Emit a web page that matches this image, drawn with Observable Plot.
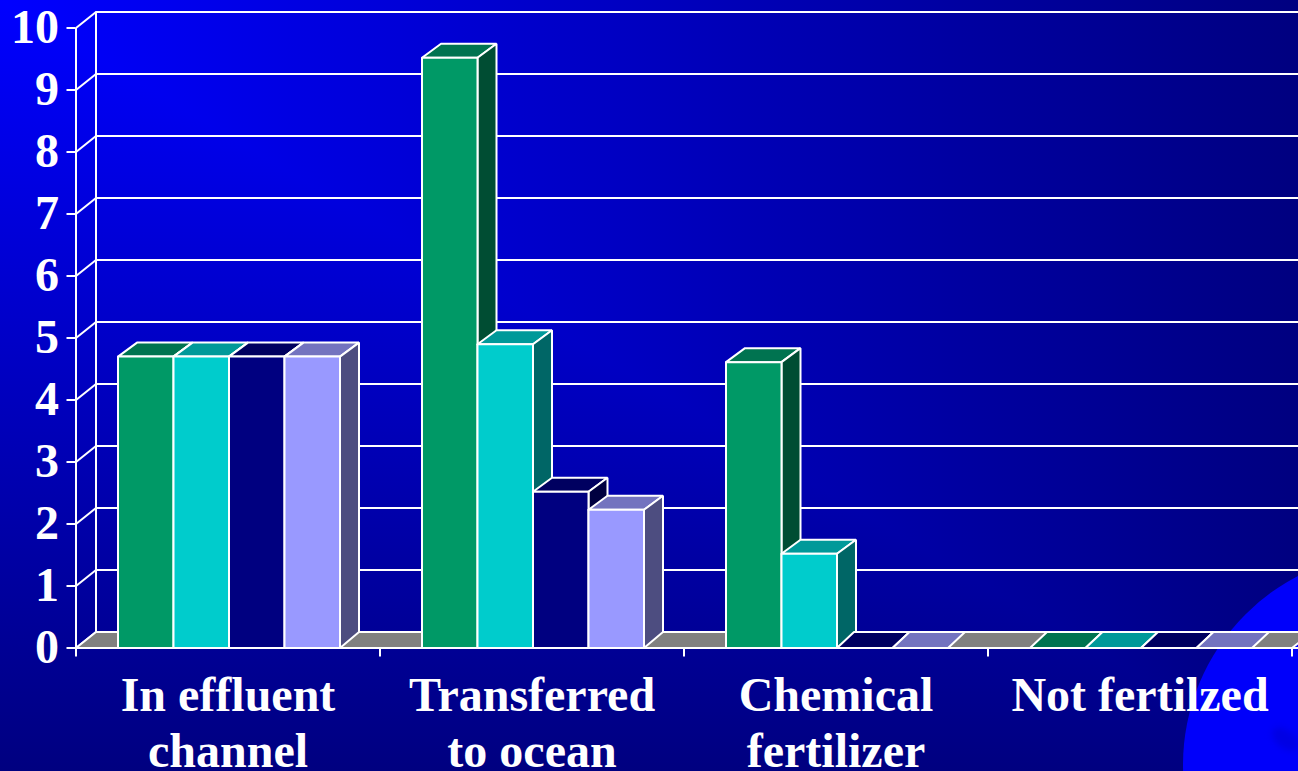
<!DOCTYPE html>
<html>
<head>
<meta charset="utf-8">
<script src="https://cdn.jsdelivr.net/npm/d3@7"></script>
<script src="https://cdn.jsdelivr.net/npm/@observablehq/plot@0.6"></script>
<style>
  html, body { margin: 0; padding: 0; overflow: hidden; }
  #slide {
    position: relative; width: 1298px; height: 771px; overflow: hidden;
    background-image: linear-gradient(to right, #0000ff, #000080), linear-gradient(to bottom, #0000ff, #000080);
    background-blend-mode: darken;
  }
  #globe {
    position: absolute; left: 1183px; top: 552px; width: 426px; height: 426px;
    border-radius: 50%; background: #0000fa;
  }
  #land {
    position: absolute; left: 1270px; top: 730px; width: 30px; height: 18px;
    border-radius: 50%; background: #0000e4; transform: rotate(40deg); filter: blur(3px);
  }
  #chart { position: absolute; left: 0; top: 0; }
  #chart text { font-variant-ligatures: none; }
</style>
</head>
<body>
<div id="slide"><div id="globe"></div><div id="land"></div><div id="chart"></div></div>
<script>
// Category labels, split over two lines where the slide wraps them
const categories = ["In effluent\nchannel", "Transferred\nto ocean", "Chemical\nfertilizer", "Not fertilzed"];
const yTicks = [0, 1, 2, 3, 4, 5, 6, 7, 8, 9, 10];

// One value per category, per series
const series1 = [4.7, 9.52, 4.61, 0];
const series2 = [4.7, 4.9, 1.52, 0];
const series3 = [4.7, 2.52, 0, 0];
const series4 = [4.7, 2.23, 0, 0];
const seriesValues = [series1, series2, series3, series4];

// Front, top and side shades of each series
const frontColors = ["#009966", "#00cccc", "#000080", "#9999ff"];
const topColors = ["#007350", "#009999", "#000060", "#7373bf"];
const sideColors = ["#004d33", "#006666", "#000040", "#4d4d80"];

// Oblique projection in data units: one category is 304px wide, one y unit 62px
const pxX = 1 / 304, pxY = 1 / 62;
const wallDx = 20 * pxX, wallDy = 16 * pxY;
const barInset = 42 * pxX, barWidth = 55.5 * pxX;

const polygons = [];
const polygon = (points, fill) => {
  const id = polygons.length ? polygons[polygons.length - 1].id + 1 : 0;
  for (const [x, y] of [...points, points[0]]) polygons.push({id, x, y, fill});
};

// Floor of the chart box
polygon([[0, 0], [4, 0], [4 + wallDx, wallDy], [wallDx, wallDy]], "#808080");

// Each bar is three faces, painted left to right so later bars overlap earlier sides
categories.forEach((_, c) => {
  seriesValues.forEach((values, s) => {
    const v = values[c];
    const x1 = c + barInset + s * barWidth, x2 = x1 + barWidth;
    const dx = (v > 0 ? 19 : 17) * pxX;
    const dyTop = (v > 0 ? 14 : 16) * pxY;
    polygon([[x1, v], [x2, v], [x2 + dx, v + dyTop], [x1 + dx, v + dyTop]], topColors[s]);
    if (v > 0) {
      polygon([[x2, 0], [x2 + dx, wallDy], [x2 + dx, v + dyTop], [x2, v]], sideColors[s]);
      polygon([[x1, 0], [x2, 0], [x2, v], [x1, v]], frontColors[s]);
    }
  });
});

const font = "'Liberation Serif', 'Times New Roman', serif";

const plot = Plot.plot({
  width: 1298,
  height: 771,
  marginLeft: 75.5,
  marginRight: 6.5,
  marginTop: 27.5,
  marginBottom: 123.5,
  style: {background: "transparent"},
  x: {domain: [0, 4], axis: null},
  y: {domain: [0, 10], axis: null},
  color: {type: "identity"},
  marks: [
    // Back wall grid, side wall rungs and the two wall uprights
    Plot.ruleY(yTicks, {y: d => d + wallDy, x1: wallDx, x2: 4.03, stroke: "white", strokeWidth: 2}),
    Plot.link(yTicks, {x1: 0, y1: d => d, x2: wallDx, y2: d => d + wallDy, stroke: "white", strokeWidth: 2}),
    Plot.ruleX([0], {y1: 0, y2: 10, stroke: "white", strokeWidth: 2}),
    Plot.ruleX([wallDx], {y1: wallDy, y2: 10 + wallDy, stroke: "white", strokeWidth: 2}),
    // Floor and bars
    Plot.line(polygons, {x: "x", y: "y", z: "id", fill: "fill", stroke: "white", strokeWidth: 2, strokeLinejoin: "miter"}),
    // Front edge of the floor
    Plot.ruleY([0], {x1: 0, x2: 4.03, stroke: "white", strokeWidth: 2}),
    // Axes
    Plot.axisY({
      ticks: yTicks, tickSize: 9, tickPadding: 8, tickFormat: d => String(d),
      stroke: "white", strokeWidth: 2, strokeOpacity: 1, fill: "white",
      fontSize: 48, fontWeight: "bold", fontFamily: font, label: null
    }),
    Plot.axisX({
      ticks: [0, 1, 2, 3, 4], tickSize: 9, tickFormat: () => "",
      stroke: "white", strokeWidth: 2, strokeOpacity: 1, label: null
    }),
    // Category names under the floor
    Plot.text(categories, {
      x: (_, i) => i + 0.5, y: 0, text: d => d, lineAnchor: "top", dy: 23, lineHeight: 1.167,
      fill: "white", fontSize: 48, fontWeight: "bold", fontFamily: font
    })
  ]
});
document.getElementById("chart").appendChild(plot);
</script>
</body>
</html>
